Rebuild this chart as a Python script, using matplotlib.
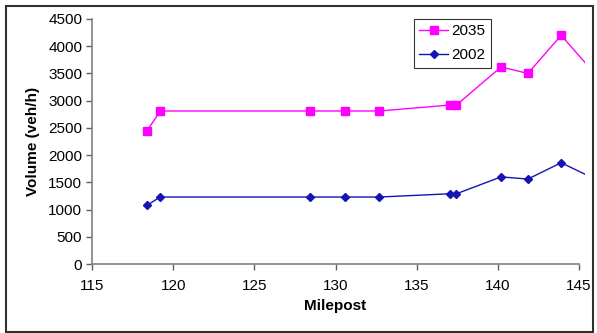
import matplotlib.pyplot as plt
from matplotlib.patches import Rectangle
from matplotlib.transforms import Bbox, TransformedBbox

plt.rcParams['font.family'] = ['Liberation Sans', 'DejaVu Sans']

# Data
milepost = [118.4, 119.2, 128.4, 130.6, 132.7, 137.05, 137.45, 140.2, 141.85, 143.9, 146.2]
vol_2035 = [2450, 2810, 2810, 2810, 2810, 2920, 2920, 3620, 3500, 4200, 3420]
vol_2002 = [1080, 1230, 1230, 1230, 1230, 1290, 1290, 1600, 1560, 1860, 1530]

W, H = 597, 333
fig = plt.figure(figsize=(W / 100, H / 100), dpi=100)
ax = fig.add_axes([92 / W, 1 - 264 / H, (579 - 92) / W, (264 - 19) / H])

l1, = ax.plot(milepost, vol_2035, color='#FF00FF', lw=1, marker='s', ms=5.5, label='2035')
l2, = ax.plot(milepost, vol_2002, color='#1414B4', lw=1, marker='D', ms=4, label='2002')

# lines run a little past the last axis tick, like the plot area in the original sheet
clip = TransformedBbox(Bbox.from_extents(92 / W, 0, 585 / W, 1), fig.transFigure)
for ln in (l1, l2):
    ln.set_clip_box(clip)

ax.set_xlim(115, 145)
ax.set_ylim(0, 4500)
ax.set_xticks(range(115, 146, 5))
ax.set_yticks(range(0, 4501, 500))
for s in ('top', 'right'):
    ax.spines[s].set_visible(False)
for s in ('left', 'bottom'):
    ax.spines[s].set_color('#808080')
    ax.spines[s].set_linewidth(1.2)
ax.tick_params(labelcolor='#000000', labelsize=11, length=4, width=1,
               direction='out', color='#606060')
ax.tick_params(axis='x', pad=7)
ax.tick_params(axis='y', pad=3)

ax.set_xlabel('Milepost', fontsize=11, fontweight='bold', labelpad=4)
ax.set_ylabel('Volume (veh/h)', fontsize=11, fontweight='bold', labelpad=6)

leg = ax.legend(loc='upper left', bbox_to_anchor=(414 / W, 1 - 19 / H),
                bbox_transform=fig.transFigure, fontsize=11, frameon=True,
                fancybox=False, edgecolor='#000000', handlelength=1.9,
                borderpad=0.35, labelspacing=0.65, handletextpad=0.2,
                borderaxespad=0)
leg.get_frame().set_linewidth(0.8)

# border around the whole chart
fig.patches.append(Rectangle((6 / W, 1 / H), (593 - 6) / W, (332 - 6) / H,
                             transform=fig.transFigure, fill=False,
                             edgecolor='#303030', lw=1.5))

fig.savefig('out.png', dpi=100)
